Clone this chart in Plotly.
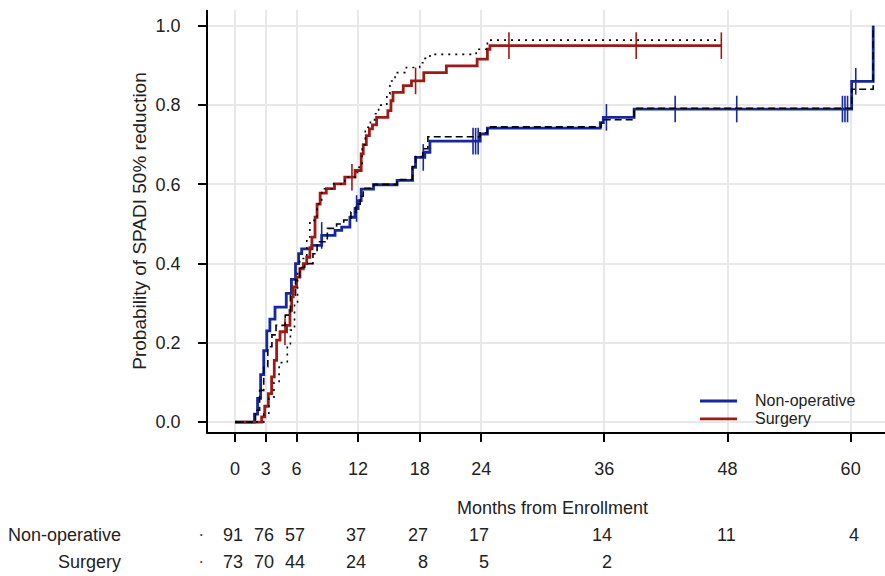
import numpy as np
import plotly.graph_objects as go

# ---------------- data ----------------
x_ticks = [0, 3, 6, 12, 18, 24, 36, 48, 60]
x_tick_labels = ["0", "3", "6", "12", "18", "24", "36", "48", "60"]
y_ticks = [0.0, 0.2, 0.4, 0.6, 0.8, 1.0]
y_tick_labels = ["0.0", "0.2", "0.4", "0.6", "0.8", "1.0"]

# Non-operative KM step curve (time in months, cumulative probability)
nonop_t = [0, 1.9, 2.2, 2.5, 2.8, 3.1, 3.4, 3.9, 5.0, 5.5, 5.9, 6.2, 6.5, 7.5, 8.45,
           9.75, 10.4, 11.2, 11.7, 12.0, 12.3, 13.5, 15.8, 17.3, 17.6, 18.5, 19.0,
           23.9, 24.6, 35.6, 35.9, 38.9, 60.1, 62.2]
nonop_p = [0, 0.02, 0.06, 0.12, 0.18, 0.23, 0.26, 0.29, 0.325, 0.36, 0.40, 0.425, 0.437,
           0.446, 0.471, 0.484, 0.492, 0.517, 0.539, 0.559, 0.588, 0.599, 0.61, 0.643,
           0.668, 0.681, 0.709, 0.727, 0.742, 0.756, 0.769, 0.79, 0.86, 1.0]
nonop_censor_t = [8.45, 11.85, 18.35, 23.2, 23.45, 23.7, 36.2, 42.9, 48.9, 59.2, 59.45,
                  59.7, 60.5]

# Surgery KM step curve
surg_t = [0, 2.6, 2.9, 3.25, 3.57, 3.83, 4.06, 4.39, 5.03, 5.36, 5.52, 5.68, 6.0, 6.33,
          6.66, 6.99, 7.3, 7.5, 7.8, 8.0, 8.3, 8.9, 9.7, 10.7, 11.7, 12.3, 12.5, 12.8,
          13.1, 13.4, 13.8, 14.9, 15.2, 15.4, 16.4, 17.2, 18.4, 20.6, 23.6, 24.6, 24.85,
          47.4]
surg_p = [0, 0.013, 0.04, 0.072, 0.114, 0.156, 0.207, 0.228, 0.244, 0.282, 0.316, 0.341,
          0.366, 0.387, 0.40, 0.416, 0.44, 0.467, 0.517, 0.55, 0.578, 0.589, 0.601, 0.618,
          0.635, 0.677, 0.70, 0.723, 0.74, 0.75, 0.769, 0.786, 0.811, 0.832, 0.849, 0.861,
          0.882, 0.899, 0.916, 0.941, 0.95, 0.95]
surg_censor_t = [4.87, 11.4, 17.6, 26.7, 39.1, 47.4]

# Black dashed reference curve (non-operative)
ref_nonop_t = [0, 2.0, 2.4, 2.8, 3.2, 3.6, 4.0, 4.9, 5.4, 5.9, 6.3, 6.8, 7.6, 8.0, 9.0,
               9.9, 10.6, 11.3, 11.8, 12.2, 12.5, 13.5, 15.8, 17.3, 17.6, 18.3, 18.8,
               23.9, 24.6, 35.7, 36.0, 38.9, 60.1, 62.2]
ref_nonop_p = [0, 0.03, 0.08, 0.14, 0.19, 0.22, 0.244, 0.27, 0.32, 0.36, 0.39, 0.40,
               0.425, 0.455, 0.489, 0.50, 0.51, 0.53, 0.55, 0.57, 0.59, 0.60, 0.612, 0.645,
               0.67, 0.69, 0.72, 0.73, 0.745, 0.755, 0.763, 0.792, 0.84, 1.0]

# Black dotted reference curve (surgery)
ref_surg_t = [0, 2.8, 3.3, 3.8, 4.3, 5.1, 5.4, 5.8, 6.1, 6.3, 7.0, 7.3, 8.0, 8.45, 9.6,
              10.7, 11.7, 12.1, 12.4, 12.7, 13.2, 13.6, 14.0, 14.8, 15.1, 15.6, 16.7, 18.0,
              18.4, 19.0, 23.5, 24.6, 47.4]
ref_surg_p = [0, 0.02, 0.06, 0.10, 0.15, 0.194, 0.232, 0.30, 0.375, 0.413, 0.467, 0.509,
              0.551, 0.589, 0.601, 0.618, 0.63, 0.647, 0.70, 0.744, 0.76, 0.778, 0.80,
              0.828, 0.861, 0.882, 0.895, 0.907, 0.918, 0.928, 0.941, 0.964, 0.964]

# Numbers at risk
risk_t_nonop = [0, 3, 6, 12, 18, 24, 36, 48, 60]
risk_nonop = [91, 76, 57, 37, 27, 17, 14, 11, 4]
risk_t_surg = [0, 3, 6, 12, 18, 24, 36]
risk_surg = [73, 70, 44, 24, 8, 5, 2]

group_names = ["Non-operative", "Surgery"]

# ---------------- styles ----------------
BLUE = "#15299c"
RED = "#9c1b16"
TXT = "#222222"
FONT = "Liberation Sans, Arial, sans-serif"


def step_value(ts, ps, t):
    ts = np.asarray(ts)
    idx = np.searchsorted(ts, t, side="right") - 1
    return [ps[i] for i in idx]


fig = go.Figure()

fig.add_trace(go.Scatter(x=nonop_t, y=nonop_p, mode="lines", line_shape="hv",
                         line=dict(color=BLUE, width=2.8), name=group_names[0],
                         showlegend=False))
fig.add_trace(go.Scatter(x=surg_t, y=surg_p, mode="lines", line_shape="hv",
                         line=dict(color=RED, width=2.8), name=group_names[1],
                         showlegend=False))

fig.add_trace(go.Scatter(x=nonop_censor_t, y=step_value(nonop_t, nonop_p, nonop_censor_t),
                         mode="markers", showlegend=False, hoverinfo="skip",
                         marker=dict(symbol="line-ns", size=19,
                                     line=dict(color=BLUE, width=1.6))))
fig.add_trace(go.Scatter(x=surg_censor_t, y=step_value(surg_t, surg_p, surg_censor_t),
                         mode="markers", showlegend=False, hoverinfo="skip",
                         marker=dict(symbol="line-ns", size=19,
                                     line=dict(color=RED, width=1.6))))

fig.add_trace(go.Scatter(x=ref_nonop_t, y=ref_nonop_p, mode="lines", line_shape="hv",
                         showlegend=False, hoverinfo="skip",
                         line=dict(color="black", width=1.6, dash="7px,4px")))
fig.add_trace(go.Scatter(x=ref_surg_t, y=ref_surg_p, mode="lines", line_shape="hv",
                         showlegend=False, hoverinfo="skip",
                         line=dict(color="black", width=1.6, dash="2px,5px")))

annotations = []
for t, n in zip(risk_t_nonop, risk_nonop):
    annotations.append(dict(x=t, y=-0.244, xref="x", yref="paper", text=str(n),
                            showarrow=False, xanchor="right", yanchor="middle", xshift=10,
                            font=dict(size=18, color=TXT, family=FONT)))
for t, n in zip(risk_t_surg, risk_surg):
    annotations.append(dict(x=t, y=-0.308, xref="x", yref="paper", text=str(n),
                            showarrow=False, xanchor="right", yanchor="middle", xshift=10,
                            font=dict(size=18, color=TXT, family=FONT)))
for name, yy, col in [(group_names[0], -0.244, BLUE), (group_names[1], -0.308, RED)]:
    annotations.append(dict(x=-0.1256, y=yy, xref="paper", yref="paper", text=name,
                            showarrow=False, xanchor="right", yanchor="middle",
                            font=dict(size=18, color=TXT, family=FONT)))
    annotations.append(dict(x=-0.0103, y=yy, xref="paper", yref="paper", text="•",
                            showarrow=False, xanchor="center", yanchor="middle",
                            font=dict(size=7, color=col, family=FONT)))
annotations.append(dict(x=0.5096, y=-0.180, xref="paper", yref="paper",
                        text="Months from Enrollment", showarrow=False,
                        xanchor="center", yanchor="middle",
                        font=dict(size=18, color=TXT, family=FONT)))

# manual legend (box + line samples + labels)
shapes = [dict(type="rect", xref="paper", yref="paper", x0=0.700, x1=1.0, y0=0.004,
               y1=0.111, fillcolor="white", line=dict(width=0), layer="between")]
legend_rows = [(group_names[0], BLUE, 0.0735), (group_names[1], RED, 0.0310)]
for name, col, yy in legend_rows:
    shapes.append(dict(type="line", xref="paper", yref="paper", x0=0.7267, x1=0.7814,
                       y0=yy, y1=yy, line=dict(color=col, width=2.8)))
    annotations.append(dict(x=0.805, y=yy, xref="paper", yref="paper", text=name,
                            showarrow=False, xanchor="left", yanchor="middle",
                            font=dict(size=16, color=TXT, family=FONT)))

fig.update_layout(
    width=885, height=576, autosize=False,
    margin=dict(l=208, r=0, t=10, b=144, pad=0),
    paper_bgcolor="white", plot_bgcolor="white",
    font=dict(family=FONT, color=TXT),
    annotations=annotations, shapes=shapes,
    showlegend=False,
    xaxis=dict(range=[-2.63, 63.35], tickvals=x_ticks, ticktext=x_tick_labels,
               showgrid=True, gridcolor="#e8e8e8", gridwidth=1.5, zeroline=False,
               showline=True, linecolor="black", linewidth=1.5,
               ticks="outside", ticklen=8, tickwidth=1.5, tickcolor="black",
               tickfont=dict(size=18, family=FONT, color=TXT),
               ticklabelstandoff=12),
    yaxis=dict(range=[-0.025, 1.04], tickvals=y_ticks, ticktext=y_tick_labels,
               showgrid=True, gridcolor="#e8e8e8", gridwidth=1.5, zeroline=False,
               showline=True, linecolor="black", linewidth=1.5,
               ticks="outside", ticklen=8, tickwidth=1.5, tickcolor="black",
               tickfont=dict(size=18, family=FONT, color=TXT),
               ticklabelstandoff=14,
               title=dict(text="Probability of SPADI 50% reduction",
                          font=dict(size=19, family=FONT, color=TXT),
                          standoff=4)),
)

fig.write_html("out.html")
